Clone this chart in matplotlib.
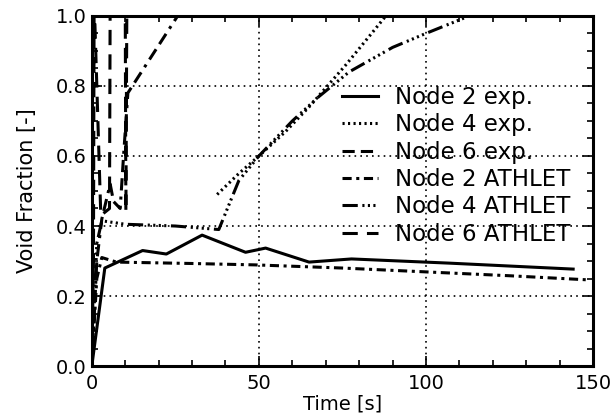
import matplotlib
matplotlib.use("Agg")
import matplotlib.pyplot as plt
from matplotlib.ticker import MultipleLocator

plt.rcParams['font.family'] = ['DejaVu Sans']

# experiment, node 2 (solid)
n2_exp_t = [0, 3.9, 15.2, 22.3, 33, 46, 52, 65, 77.7, 107, 144]
n2_exp_v = [0, 0.28, 0.33, 0.32, 0.374, 0.325, 0.337, 0.297, 0.306, 0.294, 0.277]

# experiment, node 4 (dotted)
n4_exp_t = [37.5, 44, 50, 58, 65, 76, 88, 95]
n4_exp_v = [0.49, 0.55, 0.6, 0.67, 0.74, 0.86, 1.0, 1.08]

# experiment, node 6
n6_exp_t = [0, 1.5, 3, 4.5, 5.5, 6.5, 8.5, 9.5, 10.8, 25.7, 30]
n6_exp_v = [0, 0.3, 0.42, 0.48, 0.52, 0.47, 0.45, 0.6, 0.78, 1.0, 1.06]

# ATHLET, node 2
n2_ath_t = [0, 1.5, 3, 7.4, 30, 49, 75, 100, 125, 149]
n2_ath_v = [0, 0.25, 0.31, 0.297, 0.293, 0.289, 0.28, 0.269, 0.258, 0.246]

# ATHLET, node 4
n4_ath_t = [0, 1.5, 3, 10, 25, 38, 44, 50, 60, 68, 77, 90, 100, 113]
n4_ath_v = [0, 0.35, 0.415, 0.405, 0.4, 0.39, 0.53, 0.6, 0.7, 0.77, 0.84, 0.91, 0.95, 1.0]

# ATHLET, node 6
n6_ath_t = [0, 0.5, 0.7, 2.7, 5.3, 5.5, 10.0, 10.2, 10.5]
n6_ath_v = [0, 0.3, 1.05, 0.43, 0.45, 1.05, 1.05, 0.44, 1.05]

labels = ["Node 2 exp.", "Node 4 exp.", "Node 6 exp.",
          "Node 2 ATHLET", "Node 4 ATHLET", "Node 6 ATHLET"]

fig = plt.figure(figsize=(6.16, 4.17), dpi=100)
ax = fig.add_axes([0.149, 0.122, 0.814, 0.840])

lw = 2.2
ax.plot(n2_exp_t, n2_exp_v, color='k', lw=lw, ls='-', label=labels[0])
ax.plot(n4_exp_t, n4_exp_v, color='k', lw=lw, ls=(0, (0.7, 1.1)), label=labels[1])
ax.plot(n6_exp_t, n6_exp_v, color='k', lw=lw, ls=(0, (4, 2, 4, 2, 1, 2)), label=labels[2])
ax.plot(n2_ath_t, n2_ath_v, color='k', lw=lw, ls=(0, (3, 1.5, 1, 1.5)), label=labels[3])
ax.plot(n4_ath_t, n4_ath_v, color='k', lw=lw,
        ls=(0, (5, 1.5, 0.7, 1.1, 0.7, 1.1, 0.7, 1.1, 0.7, 1.5)), label=labels[4])
ax.plot(n6_ath_t, n6_ath_v, color='k', lw=lw, ls=(0, (5, 3)), label=labels[5])

ax.set_xlim(0, 150)
ax.set_ylim(0, 1.0)
ax.xaxis.set_major_locator(MultipleLocator(50))
ax.xaxis.set_minor_locator(MultipleLocator(10))
ax.yaxis.set_major_locator(MultipleLocator(0.2))
ax.yaxis.set_minor_locator(MultipleLocator(0.05))
ax.set_yticklabels([f"{v:.1f}" for v in ax.get_yticks()])
ax.tick_params(which='both', direction='in', top=True, right=True, width=1.2)
ax.tick_params(which='major', length=7, labelsize=14)
ax.tick_params(axis='x', which='major', pad=6)
ax.tick_params(which='minor', length=4)
ax.grid(True, which='major', color='k', ls=(0, (1, 2.5)), lw=1.2)
for s in ax.spines.values():
    s.set_linewidth(2.2)

ax.set_xlabel("Time [s]", fontsize=14, labelpad=1)
ax.set_ylabel("Void Fraction [-]", fontsize=15, labelpad=14)

ax.legend(loc='upper right', bbox_to_anchor=(0.954, 0.80), frameon=False,
          fontsize=16.5, handlelength=1.55, handletextpad=0.74, labelspacing=0.19,
          borderaxespad=0, borderpad=0)

fig.savefig("out.png", dpi=100)
